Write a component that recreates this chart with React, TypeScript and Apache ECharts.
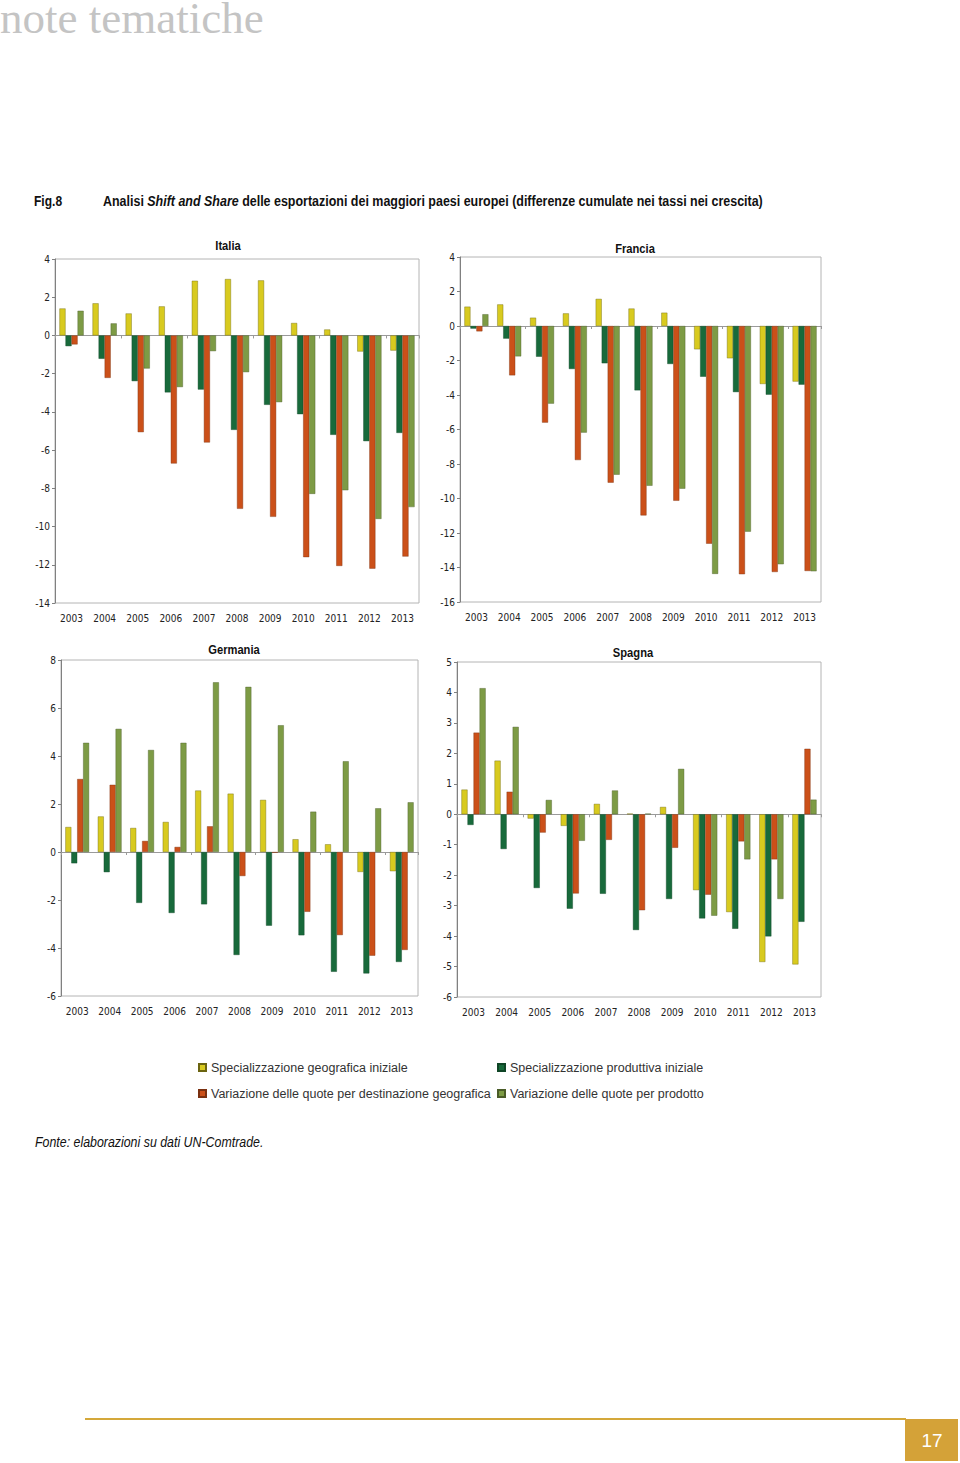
import React, { useEffect, useRef } from "react";
import * as echarts from "echarts";

const years = ["2003", "2004", "2005", "2006", "2007", "2008", "2009", "2010", "2011", "2012", "2013"];

const seriesNames = [
  "Specializzazione geografica iniziale",
  "Specializzazione produttiva iniziale",
  "Variazione delle quote per destinazione geografica",
  "Variazione delle quote per prodotto",
];

// Italia
const itaGeoIniz = [1.41, 1.68, 1.15, 1.52, 2.86, 2.95, 2.88, 0.65, 0.31, -0.84, -0.79];
const itaProdIniz = [-0.56, -1.22, -2.39, -2.98, -2.83, -4.94, -3.63, -4.12, -5.2, -5.53, -5.1];
const itaVarGeo = [-0.47, -2.22, -5.06, -6.7, -5.6, -9.07, -9.49, -11.6, -12.06, -12.2, -11.57];
const itaVarProd = [1.29, 0.63, -1.73, -2.7, -0.82, -1.92, -3.49, -8.29, -8.1, -9.6, -8.98];

// Francia
const fraGeoIniz = [1.12, 1.25, 0.48, 0.73, 1.57, 1.01, 0.77, -1.35, -1.87, -3.36, -3.22];
const fraProdIniz = [-0.15, -0.73, -1.78, -2.49, -2.16, -3.73, -2.2, -2.94, -3.83, -3.98, -3.4];
const fraVarGeo = [-0.31, -2.86, -5.6, -7.77, -9.08, -10.98, -10.13, -12.62, -14.39, -14.26, -14.2];
const fraVarProd = [0.68, -1.76, -4.5, -6.18, -8.62, -9.26, -9.43, -14.37, -11.92, -13.81, -14.22];

// Germania
const gerGeoIniz = [1.04, 1.48, 1.0, 1.25, 2.56, 2.43, 2.17, 0.53, 0.32, -0.83, -0.8];
const gerProdIniz = [-0.47, -0.84, -2.12, -2.54, -2.18, -4.29, -3.07, -3.47, -4.99, -5.06, -4.58];
const gerVarGeo = [3.04, 2.8, 0.46, 0.21, 1.07, -1.0, -0.03, -2.49, -3.46, -4.32, -4.08];
const gerVarProd = [4.55, 5.13, 4.25, 4.55, 7.07, 6.88, 5.28, 1.68, 3.78, 1.82, 2.07];

// Spagna
const spaGeoIniz = [0.81, 1.76, -0.14, -0.38, 0.34, 0.02, 0.24, -2.49, -3.21, -4.85, -4.93];
const spaProdIniz = [-0.35, -1.14, -2.42, -3.1, -2.61, -3.8, -2.78, -3.42, -3.76, -4.01, -3.53];
const spaVarGeo = [2.68, 0.74, -0.6, -2.6, -0.84, -3.15, -1.1, -2.64, -0.89, -1.48, 2.15];
const spaVarProd = [4.14, 2.87, 0.47, -0.87, 0.78, 0.02, 1.49, -3.33, -1.48, -2.78, 0.48];

const panelTitles = ["Italia", "Francia", "Germania", "Spagna"];
const panelData = [
  [itaGeoIniz, itaProdIniz, itaVarGeo, itaVarProd],
  [fraGeoIniz, fraProdIniz, fraVarGeo, fraVarProd],
  [gerGeoIniz, gerProdIniz, gerVarGeo, gerVarProd],
  [spaGeoIniz, spaProdIniz, spaVarGeo, spaVarProd],
];
const yMin = [-14, -16, -6, -6];
const yMax = [4, 4, 8, 5];
const yStep = [2, 2, 2, 1];

const colors = ["#d8ca1f", "#186a3b", "#cb5019", "#7d9b45"];
const borders = ["#6b6410", "#0f4526", "#7a3010", "#4a5c28"];

const grids = [
  { left: 55, top: 259, width: 364, height: 344 },
  { left: 460, top: 257, width: 361, height: 345 },
  { left: 61, top: 660, width: 357, height: 336 },
  { left: 457, top: 662, width: 364, height: 335 },
];
const titlePos = [
  [228, 246],
  [635, 249],
  [234, 650],
  [633, 653],
];

const COND = "'DejaVu Sans Condensed', 'Liberation Sans Narrow', sans-serif";
const SANS = "'Liberation Sans', Arial, sans-serif";

export default function App() {
  const ref = useRef<HTMLDivElement>(null);

  useEffect(() => {
    if (!ref.current) return;
    const chart = echarts.init(ref.current, undefined, { renderer: "svg" });

    const xAxes: any[] = [];
    const yAxes: any[] = [];
    const series: any[] = [];
    const graphics: any[] = [];

    grids.forEach((g, i) => {
      xAxes.push({
        type: "category",
        gridIndex: i,
        data: years,
        position: "bottom",
        axisLine: { show: false, onZero: false },
        axisTick: { show: false },
        axisLabel: { fontFamily: COND, fontSize: 10, color: "#222", margin: 10, interval: 0 },
      });
      xAxes.push({
        type: "category",
        gridIndex: i,
        data: years,
        position: "top",
        axisLine: { show: true, onZero: true, lineStyle: { color: "#9a9a9a", width: 1 } },
        axisTick: { show: true, inside: true, length: 3, lineStyle: { color: "#9a9a9a" } },
        axisLabel: { show: false },
        splitLine: { show: false },
      });
      yAxes.push({
        type: "value",
        gridIndex: i,
        min: yMin[i],
        max: yMax[i],
        interval: yStep[i],
        axisLine: { show: true, lineStyle: { color: "#808080" } },
        axisTick: { show: true, length: 3, lineStyle: { color: "#808080" } },
        axisLabel: { fontFamily: COND, fontSize: 10, color: "#222", margin: 5 },
        splitLine: { show: false },
      });
      panelData[i].forEach((vals, s) => {
        series.push({
          type: "bar",
          name: seriesNames[s],
          xAxisIndex: 2 * i,
          yAxisIndex: i,
          data: vals,
          barGap: "0%",
          barCategoryGap: "27%",
          itemStyle: { color: colors[s], borderColor: borders[s], borderWidth: 0.4 },
        });
      });
      graphics.push({
        type: "text",
        x: titlePos[i][0],
        y: titlePos[i][1],
        scaleX: 0.86,
        style: {
          text: panelTitles[i],
          fontFamily: SANS,
          fontWeight: "bold",
          fontSize: 13,
          fill: "#111",
          align: "center",
          verticalAlign: "middle",
        },
      });
    });

    // header
    graphics.push({
      type: "text",
      x: 0,
      y: -5,
      style: {
        text: "note tematiche",
        fontFamily: "'Liberation Serif', 'DejaVu Serif', serif",
        fontSize: 45,
        fill: "#c4c4c4",
        verticalAlign: "top",
      },
    });
    graphics.push({
      type: "text",
      x: 34,
      y: 201,
      scaleX: 0.86,
      style: {
        text: "Fig.8",
        fontFamily: SANS,
        fontWeight: "bold",
        fontSize: 14,
        fill: "#111",
        verticalAlign: "middle",
      },
    });
    graphics.push({
      type: "text",
      x: 103,
      y: 201,
      scaleX: 0.89,
      style: {
        text:
          "{b|Analisi }{i|Shift and Share}{b| delle esportazioni dei maggiori paesi europei (differenze cumulate nei tassi nei crescita)}",
        verticalAlign: "middle",
        rich: {
          b: { fontFamily: SANS, fontWeight: "bold", fontSize: 14, fill: "#111", color: "#111" },
          i: { fontFamily: SANS, fontWeight: "bold", fontStyle: "italic", fontSize: 14, fill: "#111", color: "#111" },
        },
      },
    });
    // footer source
    graphics.push({
      type: "text",
      x: 35,
      y: 1142,
      scaleX: 0.885,
      style: {
        text: "Fonte: elaborazioni su dati UN-Comtrade.",
        fontFamily: SANS,
        fontStyle: "italic",
        fontSize: 14,
        fill: "#111",
        verticalAlign: "middle",
      },
    });
    // bottom line and page box
    graphics.push({
      type: "line",
      shape: { x1: 85, y1: 1419, x2: 906, y2: 1419 },
      style: { stroke: "#d4a83a", lineWidth: 2 },
    });
    graphics.push({
      type: "rect",
      shape: { x: 905, y: 1419, width: 53, height: 42 },
      style: { fill: "#d4a238" },
    });
    graphics.push({
      type: "text",
      x: 932,
      y: 1440,
      style: {
        text: "17",
        fontFamily: SANS,
        fontSize: 19,
        fill: "#ffffff",
        align: "center",
        verticalAlign: "middle",
      },
    });

    const legendPos = [
      [198, 1061],
      [497, 1061],
      [198, 1087],
      [497, 1087],
    ];
    const legends = seriesNames.map((n, k) => ({
      data: [n],
      left: legendPos[k][0],
      top: legendPos[k][1],
      padding: 0,
      icon: "rect",
      itemWidth: 7,
      itemHeight: 7,
      itemGap: 0,
      textStyle: { fontFamily: SANS, fontSize: 12.5, color: "#333" },
    }));

    chart.setOption({
      animation: false,
      backgroundColor: "#ffffff",
      grid: grids.map((g) => ({
        ...g,
        show: true,
        borderColor: "#b4b4b4",
        borderWidth: 1,
        backgroundColor: "transparent",
        containLabel: false,
      })),
      xAxis: xAxes,
      yAxis: yAxes,
      series,
      legend: legends,
      graphic: graphics,
    });

    return () => chart.dispose();
  }, []);

  return (
    <div
      ref={ref}
      style={{ position: "absolute", left: 0, top: 0, width: 960, height: 1463 }}
    />
  );
}
